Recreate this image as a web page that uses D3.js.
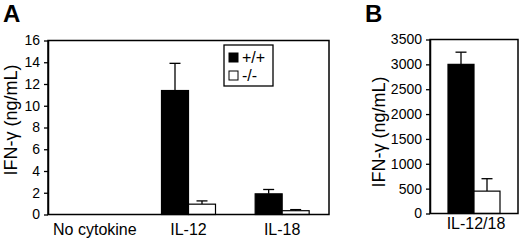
<!DOCTYPE html>
<html>
<head>
<meta charset="utf-8">
<script src="https://cdn.jsdelivr.net/npm/d3@7"></script>
<style>
  body { margin: 0; background: #fff; }
  svg { display: block; font-family: "Liberation Sans", Arial, sans-serif; }
</style>
</head>
<body>
<svg id="chart" width="520" height="246"></svg>
<script>
// panel A data
var categoriesA = ["No cytokine", "IL-12", "IL-18"];
var genotypes = ["+/+", "-/-"];
var wildA = [0, 11.4, 1.9];
var wildErrA = [0, 2.5, 0.4];
var koA = [0, 0.95, 0.35];
var koErrA = [0, 0.3, 0.1];
var ticksA = [0, 2, 4, 6, 8, 10, 12, 14, 16];

// panel B data
var categoriesB = ["IL-12/18"];
var wildB = [3000];
var wildErrB = [245];
var koB = [450];
var koErrB = [250];
var ticksB = [0, 500, 1000, 1500, 2000, 2500, 3000, 3500];

var fills = ["#000", "#fff"];

var svg = d3.select("#chart");

function drawPanel(opt) {
  var g = svg.append("g");
  var x0 = d3.scaleBand().domain(opt.cats).range([opt.left, opt.right]).padding(0);
  var y = d3.scaleLinear().domain([0, opt.max]).range([opt.bottom, opt.top]);
  var bw = x0.bandwidth();
  var x1 = d3.scaleBand().domain(genotypes)
      .range([bw / 2 - opt.barW, bw / 2 + opt.barW]).padding(0);

  var rows = [];
  opt.cats.forEach(function (c, i) {
    rows.push({cat: c, gen: "+/+", v: opt.wild[i], e: opt.wildErr[i], fill: fills[0]});
    rows.push({cat: c, gen: "-/-", v: opt.ko[i], e: opt.koErr[i], fill: fills[1]});
  });
  rows = rows.filter(function (d) { return d.v > 0; });

  // error bars first, bars drawn on top
  var eb = g.append("g").attr("stroke", "#000").attr("stroke-width", 1.3);
  rows.forEach(function (d) {
    var cx = x0(d.cat) + x1(d.gen) + x1.bandwidth() / 2;
    eb.append("line").attr("x1", cx).attr("x2", cx)
      .attr("y1", y(d.v)).attr("y2", y(d.v + d.e));
    eb.append("line").attr("x1", cx - 5.5).attr("x2", cx + 5.5)
      .attr("y1", y(d.v + d.e)).attr("y2", y(d.v + d.e));
  });

  g.append("g").selectAll("rect")
    .data(rows)
    .join("rect")
    .attr("x", function (d) { return x0(d.cat) + x1(d.gen); })
    .attr("y", function (d) { return y(d.v); })
    .attr("width", x1.bandwidth())
    .attr("height", function (d) { return y(0) - y(d.v); })
    .attr("fill", function (d) { return d.fill; })
    .attr("stroke", "#000")
    .attr("stroke-width", 1.2);

  // frame
  g.append("rect")
    .attr("x", opt.left).attr("y", opt.top)
    .attr("width", opt.right - opt.left).attr("height", opt.bottom - opt.top)
    .attr("fill", "none").attr("stroke", "#000").attr("stroke-width", 1.5);

  var ya = g.append("g")
    .attr("transform", "translate(" + opt.left + ",0)")
    .call(d3.axisLeft(y).tickValues(opt.ticks).tickFormat(d3.format("d"))
      .tickSize(4).tickPadding(4).tickSizeOuter(0));
  ya.select(".domain").attr("stroke-width", 1.5);
  ya.selectAll(".tick line").attr("stroke-width", 1.3);
  ya.selectAll("text").attr("font-size", 14).attr("fill", "#000")
    .attr("font-family", "Liberation Sans, Arial, sans-serif");

  g.append("g").selectAll("text")
    .data(opt.cats)
    .join("text")
    .attr("x", function (d) { return x0(d) + bw / 2 + opt.labelShift; })
    .attr("y", opt.labelY)
    .attr("text-anchor", "middle")
    .attr("font-size", 16)
    .text(function (d) { return d; });

  g.append("text")
    .attr("transform", "translate(" + opt.ylabX + "," + opt.ylabY + ") rotate(-90)")
    .attr("text-anchor", "middle")
    .attr("dominant-baseline", "central")
    .attr("font-size", 18)
    .text("IFN-γ (ng/mL)");

  g.append("text")
    .attr("x", opt.letterX).attr("y", 22)
    .attr("font-size", 24).attr("font-weight", "bold")
    .text(opt.letter);

  return {g: g, x0: x0, y: y};
}

drawPanel({
  cats: categoriesA, wild: wildA, wildErr: wildErrA, ko: koA, koErr: koErrA,
  max: 16, ticks: ticksA, left: 48, right: 329, top: 40.5, bottom: 214.5,
  barW: 27, labelY: 235, labelShift: 0, ylabX: 11, ylabY: 120,
  letter: "A", letterX: 3
});

drawPanel({
  cats: categoriesB, wild: wildB, wildErr: wildErrB, ko: koB, koErr: koErrB,
  max: 3500, ticks: ticksB, left: 430, right: 518, top: 39.5, bottom: 213.5,
  barW: 26, labelY: 229, labelShift: 2, ylabX: 379, ylabY: 132,
  letter: "B", letterX: 365
});

// legend
var legend = svg.append("g").attr("transform", "translate(224,45)");
legend.append("rect").attr("width", 49).attr("height", 41)
  .attr("fill", "#fff").attr("stroke", "#000").attr("stroke-width", 1.3);
genotypes.forEach(function (gen, i) {
  var row = legend.append("g").attr("transform", "translate(5," + (8 + i * 18) + ")");
  row.append("rect").attr("width", 9).attr("height", 9)
    .attr("fill", fills[i]).attr("stroke", "#000").attr("stroke-width", 1);
  row.append("text").attr("x", 13).attr("y", 9.5)
    .attr("font-size", 16).text(gen);
});
</script>
</body>
</html>
